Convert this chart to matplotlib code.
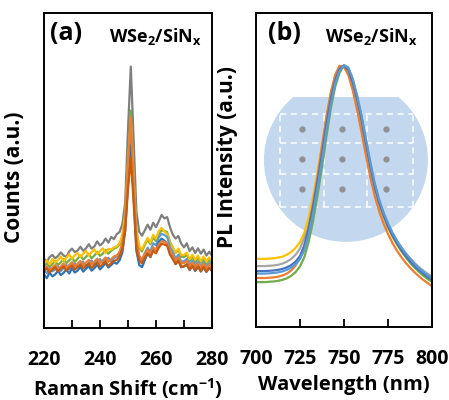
import matplotlib
matplotlib.use("Agg")
import matplotlib.pyplot as plt
from matplotlib.patches import Ellipse, Rectangle

plt.rcParams['font.family'] = ['Open Sans', 'DejaVu Sans']
plt.rcParams['font.weight'] = 'bold'
plt.rcParams['mathtext.fontset'] = 'custom'
plt.rcParams['mathtext.rm'] = 'Open Sans:bold'
plt.rcParams['mathtext.bf'] = 'Open Sans:bold'
plt.rcParams['mathtext.it'] = 'Open Sans:bold'

# ---------------- Raman data (panel a) ----------------
raman_shift = list(range(220, 281))
raman_grey = [22.0, 21.0, 22.5, 23.2, 22.1, 22.9, 24.0, 23.0, 22.6, 24.3,
              25.2, 24.1, 24.6, 25.8, 24.5, 25.3, 26.6, 25.2, 25.9, 27.5,
              26.2, 27.0, 28.4, 27.1, 28.9, 28.2, 29.8, 30.5, 33.0, 40.0,
              63.0, 83.0, 60.0, 37.0, 30.5, 29.3, 31.0, 32.8, 31.2, 33.4,
              32.0, 33.9, 35.9, 34.8, 35.2, 32.0, 29.6, 28.4, 29.2, 26.8,
              25.6, 26.9, 24.4, 25.6, 23.8, 25.3, 23.6, 24.9, 23.0, 24.2, 23.0]
raman_green = [19.6, 20.6, 19.4, 20.3, 21.2, 20.0, 20.8, 21.9, 20.6, 21.5,
               22.3, 21.0, 22.0, 23.0, 21.7, 22.6, 23.5, 22.1, 23.0, 24.2,
               22.9, 23.6, 24.8, 23.6, 24.5, 25.2, 25.6, 26.5, 29.0, 36.0,
               54.0, 69.0, 50.0, 31.0, 25.5, 24.3, 26.4, 28.0, 26.6, 28.8,
               27.6, 29.9, 31.0, 30.8, 30.4, 27.3, 25.6, 23.8, 24.9, 22.6,
               22.5, 23.3, 21.3, 22.6, 20.9, 22.3, 20.7, 22.0, 20.4, 21.6, 20.6]
raman_yellow = [20.4, 21.5, 20.2, 21.9, 20.8, 21.6, 22.7, 21.2, 22.3, 23.4,
                21.9, 23.1, 23.8, 22.5, 23.6, 24.5, 23.0, 24.0, 25.0, 23.5,
                24.4, 25.3, 23.8, 25.1, 24.9, 25.6, 25.9, 27.0, 29.5, 36.5,
                52.0, 66.0, 48.0, 30.5, 26.0, 24.9, 26.9, 28.6, 27.1, 29.6,
                28.3, 30.8, 31.8, 30.6, 29.9, 26.9, 25.6, 23.9, 25.3, 23.1,
                23.2, 23.9, 21.8, 23.3, 21.6, 23.0, 21.2, 22.7, 21.0, 22.4, 21.4]
raman_lightblue = [18.4, 17.4, 19.1, 18.0, 18.6, 19.6, 18.1, 19.0, 20.0, 18.6,
                   19.8, 20.5, 19.1, 20.2, 21.0, 19.6, 20.6, 21.4, 20.0, 21.1,
                   21.9, 20.6, 21.5, 22.3, 21.1, 22.2, 22.7, 23.8, 26.5, 33.0,
                   49.0, 62.0, 45.0, 27.0, 22.4, 21.5, 23.8, 25.5, 24.2, 26.9,
                   26.3, 28.8, 29.9, 29.5, 28.9, 25.7, 24.1, 22.1, 23.3, 21.1,
                   21.2, 21.9, 20.1, 21.4, 19.8, 21.1, 19.5, 20.9, 19.3, 20.6, 19.7]
raman_blue = [17.0, 15.8, 17.6, 16.4, 17.0, 18.2, 16.8, 17.5, 18.6, 17.3,
              18.9, 17.6, 18.2, 19.4, 17.9, 18.8, 19.6, 18.2, 19.0, 20.1,
              18.6, 19.5, 20.6, 19.2, 20.0, 20.8, 20.4, 21.5, 24.0, 31.0,
              46.0, 58.0, 42.0, 24.5, 20.0, 19.3, 21.5, 23.7, 22.5, 25.1,
              24.9, 27.3, 28.4, 27.7, 26.7, 23.7, 22.1, 20.3, 21.6, 19.3,
              19.5, 20.2, 18.4, 19.8, 18.1, 19.5, 17.9, 19.3, 17.8, 19.1, 18.3]
raman_orange = [18.6, 19.6, 18.1, 19.2, 20.0, 18.7, 19.5, 20.5, 19.1, 20.0,
                20.9, 19.4, 20.4, 21.3, 19.9, 20.8, 21.6, 20.2, 21.1, 22.0,
                20.6, 21.5, 22.4, 21.0, 21.9, 22.7, 23.0, 24.2, 27.0, 34.0,
                52.0, 67.0, 47.0, 28.0, 23.0, 21.7, 23.5, 24.9, 23.7, 25.6,
                24.7, 26.5, 27.5, 27.3, 26.9, 24.3, 23.1, 21.3, 22.5, 20.5,
                20.6, 21.3, 19.5, 20.8, 19.3, 20.6, 19.1, 20.4, 18.9, 20.2, 19.1]
raman_darkorange = [18.0, 19.0, 17.6, 18.6, 19.3, 17.9, 18.8, 19.6, 18.2, 19.1,
                    19.9, 18.5, 19.4, 20.2, 18.9, 19.8, 20.5, 19.1, 20.0, 20.8,
                    19.5, 20.3, 21.1, 19.7, 20.6, 21.3, 21.6, 22.8, 25.0, 31.0,
                    44.0, 54.0, 40.0, 25.0, 21.5, 20.5, 22.3, 23.7, 22.6, 24.5,
                    23.7, 25.5, 26.7, 26.5, 26.1, 23.3, 21.9, 20.3, 21.3, 19.4,
                    19.6, 20.2, 18.5, 19.7, 18.3, 19.5, 18.1, 19.3, 17.9, 19.1, 18.0]

raman_series = [raman_grey, raman_green, raman_yellow, raman_lightblue,
                raman_blue, raman_orange, raman_darkorange]
raman_colors = ['#7F7F7F', '#70AD47', '#FFC000', '#5B9BD5',
                '#2E75B6', '#ED7D31', '#C55A11']

# ---------------- PL data (panel b) ----------------
wavelength = [700 + 2.5 * i for i in range(41)]
pl_yellow = [21.7, 21.7, 21.7, 21.8, 21.9, 22.1, 22.4, 23.0, 23.9, 25.2,
             27.0, 30.0, 35.0, 41.5, 49.5, 58.0, 67.0, 74.5, 80.0, 83.0,
             83.0, 80.8, 76.2, 70.2, 63.5, 56.2, 49.3, 43.3, 38.6, 34.8,
             31.5, 28.7, 26.3, 24.2, 22.4, 20.8, 19.4, 18.2, 17.1, 16.1, 15.3]
pl_grey = [19.4, 19.4, 19.4, 19.5, 19.6, 19.8, 20.2, 20.8, 21.7, 23.0,
           25.0, 28.5, 33.8, 40.5, 48.5, 57.0, 66.0, 73.8, 79.5, 82.8,
           83.2, 81.2, 76.8, 71.0, 64.5, 57.3, 50.5, 44.6, 39.8, 36.0,
           32.7, 29.9, 27.5, 25.4, 23.5, 21.9, 20.4, 19.1, 18.0, 16.9, 16.0]
pl_blue = [17.8, 17.8, 17.8, 17.9, 18.0, 18.2, 18.5, 19.0, 19.7, 20.8,
           22.6, 26.0, 31.5, 38.5, 46.5, 55.0, 64.5, 72.5, 78.5, 82.2,
           83.3, 81.8, 77.8, 72.3, 65.8, 58.3, 51.0, 44.5, 39.5, 35.5,
           32.0, 29.2, 26.8, 24.6, 22.7, 21.0, 19.5, 18.2, 17.0, 15.9, 15.0]
pl_lightblue = [17.0, 17.0, 17.0, 17.1, 17.2, 17.4, 17.7, 18.2, 18.9, 20.0,
                21.6, 24.5, 29.5, 36.3, 44.3, 53.0, 62.3, 70.8, 77.4, 81.6,
                83.4, 82.6, 79.0, 73.6, 67.2, 59.8, 52.4, 45.8, 40.6, 36.5,
                33.0, 30.1, 27.6, 25.4, 23.5, 21.8, 20.2, 18.8, 17.6, 16.5, 15.5]
pl_orange = [15.6, 15.6, 15.6, 15.7, 15.8, 16.0, 16.4, 17.0, 18.0, 19.6,
             22.0, 26.0, 32.0, 39.5, 48.0, 57.5, 66.8, 74.5, 80.3, 83.2,
             82.8, 80.2, 75.3, 69.0, 62.0, 54.6, 47.6, 41.6, 36.8, 32.9,
             29.6, 26.8, 24.4, 22.3, 20.5, 18.9, 17.5, 16.2, 15.0, 14.0, 13.0]
pl_green = [14.3, 14.3, 14.3, 14.4, 14.5, 14.7, 15.0, 15.5, 16.3, 17.5,
            19.3, 22.3, 27.3, 34.0, 42.0, 51.0, 60.5, 69.5, 76.5, 81.0,
            83.3, 82.5, 78.8, 73.3, 66.8, 59.3, 51.8, 45.2, 40.0, 35.8,
            32.2, 29.2, 26.6, 24.3, 22.3, 20.5, 19.0, 17.6, 16.4, 15.3, 14.4]

pl_series = [pl_grey, pl_yellow, pl_orange, pl_green, pl_blue, pl_lightblue]
pl_colors = ['#A5A5A5', '#FFC000', '#ED7D31', '#70AD47', '#4472C4', '#5B9BD5']

raman_ticks = [220, 230, 240, 250, 260, 270, 280]
raman_ticklabels = ['220', '', '240', '', '260', '', '280']
pl_ticks = [700, 725, 750, 775, 800]
pl_ticklabels = ['700', '725', '750', '775', '800']

# ---------------- figure ----------------
fig = plt.figure(figsize=(4.49, 4.00), dpi=100)
W, H = 449, 400
ax_a = fig.add_axes([44 / W, 72 / H, 168 / W, 315 / H])
ax_b = fig.add_axes([256 / W, 73 / H, 176 / W, 314 / H])

for s, c in zip(raman_series, raman_colors):
    ax_a.plot(raman_shift, s, color=c, lw=1.6, solid_joinstyle='round')
ax_a.set_xlim(220, 280)
ax_a.set_ylim(0, 100)
ax_a.set_xticks(raman_ticks)
ax_a.set_xticklabels(raman_ticklabels)
ax_a.set_xlabel('Raman Shift (cm$^{-1}$)', fontsize=14.5, fontweight='bold', labelpad=4.5)
ax_a.set_ylabel('Counts (a.u.)', fontsize=15, fontweight='bold')
ax_a.yaxis.set_label_coords(-0.115, 0.48)

# wafer sketch (panel b background)
wafer_color = '#C3D8EE'
wafer = Ellipse((0.511, 0.532), 0.932, 0.522, transform=ax_b.transAxes,
                facecolor=wafer_color, edgecolor='none', zorder=0)
clip = Rectangle((0, 0), 1, 0.7325, transform=ax_b.transAxes)
ax_b.add_patch(wafer)
wafer.set_clip_path(clip)
grid_x = [0.136, 0.386, 0.631, 0.892]
grid_y = [0.382, 0.487, 0.586, 0.678]
for gx in grid_x:
    ax_b.plot([gx, gx], [grid_y[0], grid_y[-1]], transform=ax_b.transAxes,
              color='white', lw=1.1, ls=(0, (4, 3)), zorder=1)
for gy in grid_y:
    ax_b.plot([grid_x[0], grid_x[-1]], [gy, gy], transform=ax_b.transAxes,
              color='white', lw=1.1, ls=(0, (4, 3)), zorder=1)
dot_x = [0.261, 0.489, 0.739]
dot_y = [0.631, 0.535, 0.439]
for dx in dot_x:
    for dy in dot_y:
        ax_b.plot(dx, dy, 'o', transform=ax_b.transAxes, color='#8E9196',
                  ms=4.5, mec='none', zorder=1)

for s, c in zip(pl_series, pl_colors):
    ax_b.plot(wavelength, s, color=c, lw=1.6, zorder=2)
ax_b.set_xlim(700, 800)
ax_b.set_ylim(0, 100)
ax_b.set_xticks(pl_ticks)
ax_b.set_xticklabels(pl_ticklabels)
ax_b.set_xlabel('Wavelength (nm)', fontsize=14.5, fontweight='bold', labelpad=4.5)
ax_b.set_ylabel('PL Intensity (a.u.)', fontsize=15, fontweight='bold')
ax_b.yaxis.set_label_coords(-0.1, 0.54)

for ax in (ax_a, ax_b):
    ax.set_yticks([])
    ax.tick_params(axis='x', direction='in', length=6, width=1.3, pad=15.5,
                   labelsize=14)
    for lab in ax.get_xticklabels():
        lab.set_fontweight('bold')
    for sp in ax.spines.values():
        sp.set_linewidth(1.4)
        sp.set_color('black')

ax_a.text(0.036, 0.935, '(a)', transform=ax_a.transAxes, fontsize=18,
          fontweight='bold', va='center', ha='left')
ax_a.text(0.385, 0.925, r'WSe$_2$/SiN$_x$', transform=ax_a.transAxes, fontsize=13,
          fontweight='bold', va='center', ha='left')
ax_b.text(0.068, 0.935, '(b)', transform=ax_b.transAxes, fontsize=18,
          fontweight='bold', va='center', ha='left')
ax_b.text(0.39, 0.925, r'WSe$_2$/SiN$_x$', transform=ax_b.transAxes, fontsize=13,
          fontweight='bold', va='center', ha='left')

fig.savefig('out.png', dpi=100)
